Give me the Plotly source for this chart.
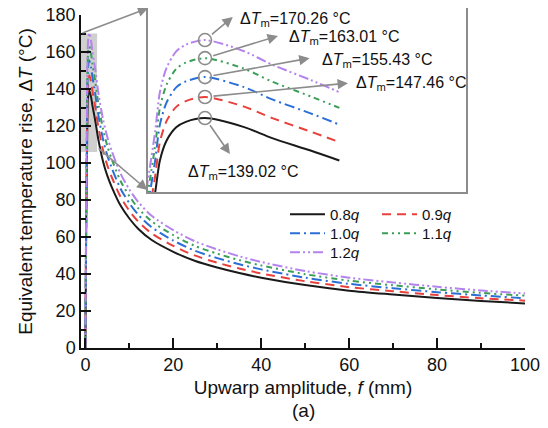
import plotly.graph_objects as go

# ---------------- data ----------------
f_mm = [0, 0.2, 0.38, 0.43, 0.5, 0.6, 0.7, 0.9, 1.3, 1.6, 2.0, 2.3, 3, 4, 5, 6, 8, 10,
        12, 15, 20, 25, 30, 35, 40, 50, 60, 70, 80, 90, 100]

dT_08q = [0, 70, 109, 122, 130, 135.3, 137.5, 139.02, 135.5, 131, 126, 122, 112, 101, 93, 87,
          77, 70, 64.5, 58.5, 52, 47, 43.5, 40.5, 38.0, 34, 31, 28.9, 27, 25.4, 24.1]
dT_09q = [0, 74.2, 115.6, 129.4, 137.9, 143.5, 145.8, 147.46, 143.7, 139.0, 133.6, 129.4, 118.8,
          107.1, 98.6, 92.3, 81.7, 74.2, 68.4, 62.1, 55.2, 49.9, 46.1, 43.0, 40.3, 36.1, 32.9,
          30.7, 28.6, 26.9, 25.6]
dT_10q = [0, 78.3, 121.9, 136.4, 145.3, 151.3, 153.7, 155.43, 151.5, 146.5, 140.9, 136.4, 125.2,
          112.9, 104.0, 97.3, 86.1, 78.3, 72.1, 65.4, 58.1, 52.5, 48.6, 45.3, 42.5, 38.0, 34.7,
          32.3, 30.2, 28.4, 26.9]
dT_11q = [0, 82.1, 127.8, 143.1, 152.4, 158.7, 161.2, 163.01, 158.9, 153.6, 147.7, 143.1, 131.3,
          118.4, 109.1, 102.0, 90.3, 82.1, 75.6, 68.6, 61.0, 55.1, 51.0, 47.5, 44.6, 39.9, 36.4,
          33.9, 31.7, 29.8, 28.3]
dT_12q = [0, 85.7, 133.5, 149.4, 159.2, 165.7, 168.4, 170.26, 165.9, 160.4, 154.3, 149.4, 137.2,
          123.7, 113.9, 106.5, 94.3, 85.7, 79.0, 71.6, 63.7, 57.6, 53.3, 49.6, 46.5, 41.6, 38.0,
          35.4, 33.1, 31.1, 29.5]

series_labels = ["0.8<i>q</i>", "0.9<i>q</i>", "1.0<i>q</i>", "1.1<i>q</i>", "1.2<i>q</i>"]
peak_f = [0.9, 0.9, 0.9, 0.9, 0.9]
peak_dTm = [139.02, 147.46, 155.43, 163.01, 170.26]
inset_f_max = 2.3          # inset curves are drawn up to this amplitude
zoom_f = [-1, 2.66]        # grey highlighted region in the main plot
zoom_T = [106, 170]

x_ticks = [0, 20, 40, 60, 80, 100]
y_ticks = [0, 20, 40, 60, 80, 100, 120, 140, 160, 180]

# ---------------- styles ----------------
FONT = "Liberation Sans, Arial, Helvetica, sans-serif"
series = [dT_08q, dT_09q, dT_10q, dT_11q, dT_12q]
colors = ["#1a1a1a", "#e8413c", "#2b6fd6", "#3a9e57", "#b483ee"]
dashes = ["solid", "9px,6px", "10px,4px,2px,4px", "6px,4px,2px,4px,2px,4px",
          "10px,3px,2px,3px,2px,3px"]
legend_ids = ["legend", "legend2", "legend3", "legend4", "legend5"]
legend_px = [(285, 198), (377, 198), (285, 217), (377, 217), (285, 236)]  # window px
GREY = "#8c8c8c"

# page body has an 8 px margin: figure is 540x420 placed at (8, 8) of the window
PH = 340.0   # plot-area height in px (window y 8 .. 348)
PW = 444.0   # plot-area width in px (window x 81 .. 525)


def px_x(p):
    return (p - 81) / PW


def px_y(p):
    return (348 - p) / PH


fig = go.Figure()

# main curves
for ys, lab, c, d, lg in zip(series, series_labels, colors, dashes, legend_ids):
    fig.add_trace(go.Scatter(x=f_mm, y=ys, mode="lines", name=lab,
                             line=dict(color=c, width=2, dash=d, shape="spline", smoothing=0.8),
                             xaxis="x", yaxis="y", legend=lg))

# inset curves
for ys, c, d in zip(series, colors, dashes):
    fx = [v for v in f_mm if v <= inset_f_max]
    fy = ys[:len(fx)]
    fig.add_trace(go.Scatter(x=fx, y=fy, mode="lines", showlegend=False,
                             line=dict(color=c, width=2, dash=d, shape="spline", smoothing=0.8),
                             xaxis="x2", yaxis="y2"))

# peak circles in inset
fig.add_trace(go.Scatter(x=peak_f, y=peak_dTm, mode="markers", showlegend=False,
                         marker=dict(symbol="circle-open", size=13, color=GREY,
                                     line=dict(width=1.6, color=GREY)),
                         xaxis="x2", yaxis="y2", cliponaxis=False))

# grey zoom region
fig.add_shape(type="rect", xref="x", yref="y", x0=zoom_f[0], x1=zoom_f[1],
              y0=zoom_T[0], y1=zoom_T[1], fillcolor="#cfcfcf", line=dict(width=0),
              layer="below")

annotations = []
# big arrows from zoom region to inset
big_arrows = [((zoom_f[0], zoom_T[1]), (14.3, 183.8)),
              ((zoom_f[1], 108.6), (14.1, 85.4))]
for (tx, ty), (hx, hy) in big_arrows:
    annotations.append(dict(x=hx, y=hy, ax=tx, ay=ty, xref="x", yref="y", axref="x", ayref="y",
                            text="", showarrow=True, arrowhead=2, arrowsize=1.3,
                            arrowwidth=1.6, arrowcolor=GREY))

# label arrows in inset (head, text position in inset coordinates)
label_heads = [(1.16, 124.6), (2.39, 153.0), (1.99, 163.0), (1.66, 171.9), (1.19, 179.5)]
label_text = [(0.70, 117.4), (2.45, 153.0), (2.10, 162.2), (1.75, 171.1), (1.24, 178.3)]
for pf, pv, (hx, hy), (lx, ly) in zip(peak_f, peak_dTm, label_heads, label_text):
    annotations.append(dict(x=hx, y=hy, ax=pf, ay=pv, xref="x2", yref="y2", axref="x2",
                            ayref="y2", text="", showarrow=True, arrowhead=2, arrowsize=1.3,
                            arrowwidth=1.6, arrowcolor=GREY, startstandoff=7))
    annotations.append(dict(x=lx, y=ly, xref="x2", yref="y2", xanchor="left", yanchor="middle",
                            text="Δ<i>T</i><sub>m</sub>=%.2f °C" % pv, showarrow=False,
                            font=dict(family=FONT, size=16, color="#111")))

annotations.append(dict(x=0.5, y=px_y(410), xref="paper", yref="paper", text="(a)",
                        showarrow=False, xanchor="center", yanchor="middle",
                        font=dict(family=FONT, size=19, color="#111")))

axis_common = dict(showline=True, linecolor="#111", linewidth=1.5, ticks="inside",
                   ticklen=10, tickwidth=1.5, tickcolor="#111", showgrid=False, zeroline=False,
                   automargin=False, ticklabeloverflow="allow",
                   tickfont=dict(family=FONT, size=18, color="#111"))

legend_common = dict(xanchor="left", yanchor="top", bgcolor="rgba(0,0,0,0)", borderwidth=0,
                     itemwidth=35, font=dict(family=FONT, size=15, color="#111"))
legends = {lg: dict(x=px_x(lx), y=px_y(ly), **legend_common)
           for lg, (lx, ly) in zip(legend_ids, legend_px)}

fig.update_layout(
    width=540, height=420,
    margin=dict(l=73, r=23, t=0, b=80, autoexpand=False),
    paper_bgcolor="white", plot_bgcolor="white",
    font=dict(family=FONT, color="#111"),
    xaxis=dict(domain=[0, 1], range=[-1, 100], anchor="y", tickvals=x_ticks,
               minor=dict(dtick=10, tick0=0, ticks="inside", ticklen=5, tickwidth=1.5,
                          tickcolor="#111"),
               title=dict(text="Upwarp amplitude, <i>f</i> (mm)", standoff=6,
                          font=dict(family=FONT, size=19, color="#111")),
               **axis_common),
    yaxis=dict(domain=[0, px_y(15)], range=[0, 180], anchor="x", tickvals=y_ticks,
               minor=dict(dtick=10, tick0=0, ticks="inside", ticklen=5, tickwidth=1.5,
                          tickcolor="#111"),
               title=dict(text="Equivalent temperature rise, Δ<i>T</i> (°C)", standoff=8,
                          font=dict(family=FONT, size=19, color="#111")),
               **axis_common),
    xaxis2=dict(domain=[px_x(148), px_x(466)], range=[0.306, 3.62], anchor="y2",
                showline=True, mirror=True, linecolor=GREY, linewidth=2, ticks="",
                showticklabels=False, showgrid=False, zeroline=False),
    yaxis2=dict(domain=[px_y(192), 1.0], range=[109.4, 183.1], anchor="x2",
                showline=True, mirror=True, linecolor=GREY, linewidth=2, ticks="",
                showticklabels=False, showgrid=False, zeroline=False),
    annotations=annotations,
    showlegend=True,
    **legends,
)

fig.write_html("out.html")
